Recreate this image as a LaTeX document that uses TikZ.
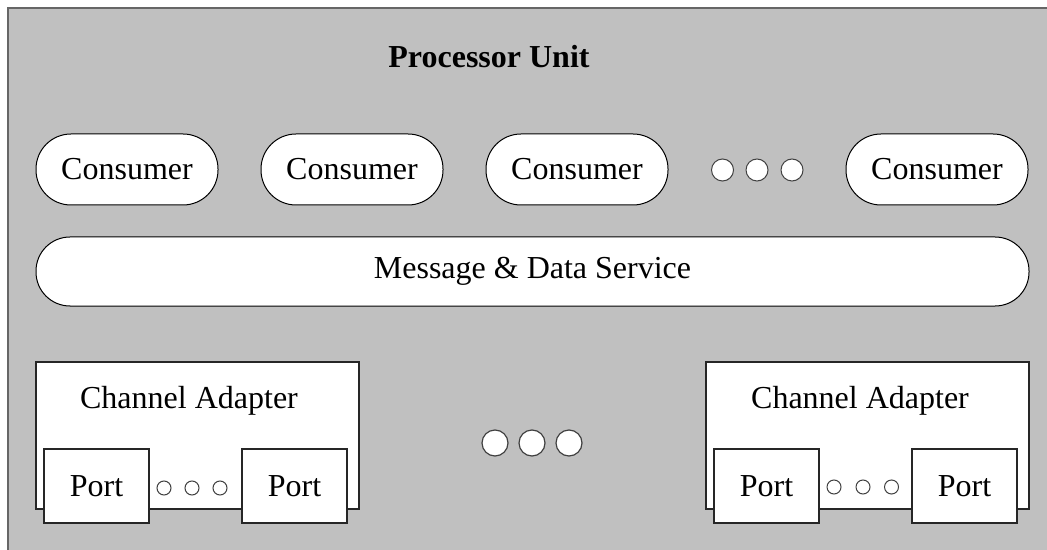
\documentclass[tikz,border=0pt]{standalone}
\usepackage{fontspec}
\setmainfont{Liberation Serif}
\begin{document}
\begin{tikzpicture}[x=0.5pt,y=-0.5pt,
  every node/.style={inner sep=0pt,outer sep=0pt},
  txt/.style={font=\fontsize{16}{19}\selectfont},
  pill/.style={draw=black,fill=white,line width=0.5pt,rounded corners=17.5pt,minimum height=35.5pt,txt},
  consumer/.style={pill,minimum width=91pt},
  adapterbox/.style={draw=black!85,fill=white,line width=0.6pt,minimum width=161.5pt,minimum height=73.5pt},
  portbox/.style={draw=black!85,fill=white,line width=0.6pt,minimum width=52.5pt,minimum height=37pt,txt},
  dotbig/.style={circle,draw=black!75,fill=white,line width=0.6pt,minimum size=13pt},
  dotmid/.style={circle,draw=black!75,fill=white,line width=0.5pt,minimum size=11pt},
  dotsmall/.style={circle,draw=black!75,fill=white,line width=0.5pt,minimum size=7pt}]
\useasboundingbox (0,0) rectangle (1047,550);
\clip (0,0) rectangle (1047,550);
\fill[white] (0,0) rectangle (1047,550);
\draw[fill={rgb,255:red,192;green,192;blue,192},draw=black!60,line width=1pt] (8,8) rectangle (1070,570);
\node[font=\fontsize{16}{19}\selectfont\bfseries] (title) at (489,57) {Processor Unit};
\node[consumer] (c1) at (127,169.5) {Consumer};
\node[consumer] (c2) at (352,169.5) {Consumer};
\node[consumer] (c3) at (577,169.5) {Consumer};
\node[consumer] (c4) at (937,169.5) {Consumer};
\node[dotmid] (td1) at (722.5,170) {};
\node[dotmid] (td2) at (757,170) {};
\node[dotmid] (td3) at (792,170) {};
\node[pill,minimum width=496.5pt,minimum height=34.5pt,rounded corners=17pt] (mds) at (532.5,271.5) {Message \& Data Service};
\node[adapterbox] (a1) at (197.5,435.5) {};
\node[txt] (a1l) at (189,401) {Channel Adapter};
\node[portbox] (p11) at (96.5,486) {Port};
\node[portbox] (p12) at (294.5,486) {Port};
\node[dotsmall] (s11) at (164,488) {};
\node[dotsmall] (s12) at (192,488) {};
\node[dotsmall] (s13) at (220,488) {};
\node[adapterbox] (a2) at (867.5,435.5) {};
\node[txt] (a2l) at (860,401) {Channel Adapter};
\node[portbox] (p21) at (766.5,486) {Port};
\node[portbox] (p22) at (964.5,486) {Port};
\node[dotsmall] (s21) at (834,487) {};
\node[dotsmall] (s22) at (863,487) {};
\node[dotsmall] (s23) at (891.5,487) {};
\node[dotbig] (md1) at (495,443) {};
\node[dotbig] (md2) at (532,443) {};
\node[dotbig] (md3) at (569,443) {};
\end{tikzpicture}
\end{document}
